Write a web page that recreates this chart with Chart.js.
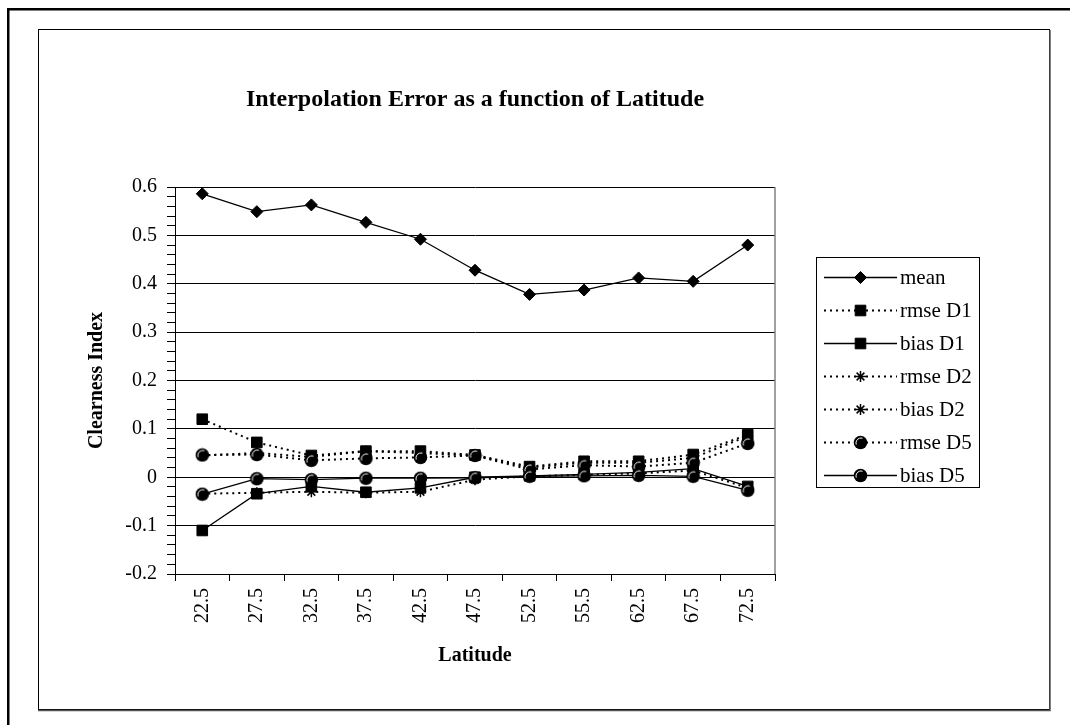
<!DOCTYPE html>
<html>
<head>
<meta charset="utf-8">
<title>Interpolation Error as a function of Latitude</title>
<script src="https://cdn.jsdelivr.net/npm/chart.js@4/dist/chart.umd.min.js"></script>
<style>
    html, body { margin: 0; padding: 0; background: #fff; }
    canvas { display: block; }
</style>
</head>
<body>
<canvas id="errorChart" width="1070" height="725"></canvas>
<script>
// Latitude bands (the 55.5 label is as printed on the original chart)
const latitudes = ['22.5', '27.5', '32.5', '37.5', '42.5', '47.5', '52.5', '55.5', '62.5', '67.5', '72.5'];

const meanValues = [0.586, 0.549, 0.563, 0.527, 0.492, 0.428, 0.378, 0.387, 0.412, 0.405, 0.480];
const rmseD1 = [0.120, 0.072, 0.045, 0.054, 0.054, 0.046, 0.022, 0.033, 0.033, 0.047, 0.088];
const biasD1 = [-0.110, -0.034, -0.019, -0.031, -0.022, 0.000, 0.003, 0.006, 0.010, 0.018, -0.019];
const rmseD2 = [0.045, 0.050, 0.042, 0.054, 0.050, 0.045, 0.020, 0.030, 0.030, 0.040, 0.085];
const biasD2 = [-0.034, -0.032, -0.030, -0.032, -0.030, -0.005, 0.002, 0.005, 0.008, 0.014, -0.022];
const rmseD5 = [0.046, 0.047, 0.035, 0.039, 0.041, 0.045, 0.016, 0.025, 0.022, 0.030, 0.070];
const biasD5 = [-0.035, -0.003, -0.005, -0.002, -0.002, -0.001, 0.002, 0.003, 0.004, 0.002, -0.027];

const seriesNames = ['mean', 'rmse D1', 'bias D1', 'rmse D2', 'bias D2', 'rmse D5', 'bias D5'];
const seriesValues = [meanValues, rmseD1, biasD1, rmseD2, biasD2, rmseD5, biasD5];

// Y axis: labelled every 0.1, minor ticks every 0.02
const yMajorTicks = [-0.2, -0.1, 0, 0.1, 0.2, 0.3, 0.4, 0.5, 0.6];
const yMinorStep = 0.02;

const chartTitle = 'Interpolation Error as a function of Latitude';
const SERIF = "'Liberation Serif', 'Times New Roman', serif";

// Shaded ball marker, like the old spreadsheet circle marker
function makeBall() {
    const c = document.createElement('canvas');
    c.width = 15;
    c.height = 15;
    const g = c.getContext('2d');
    g.fillStyle = '#000';
    g.beginPath();
    g.arc(7.5, 7.5, 6.8, 0, Math.PI * 2);
    g.fill();
    g.strokeStyle = '#fff';
    g.lineWidth = 1;
    g.beginPath();
    g.arc(8, 8, 5, Math.PI * 0.9, Math.PI * 1.6);
    g.stroke();
    return c;
}
const ball = makeBall();

const seriesStyles = [
    { marker: 'rectRot', radius: 6, dotted: false },
    { marker: 'rect', radius: 7.5, dotted: true },
    { marker: 'rect', radius: 7.5, dotted: false },
    { marker: 'star', radius: 5.5, dotted: true },
    { marker: 'star', radius: 5.5, dotted: true },
    { marker: ball, radius: 7, dotted: true },
    { marker: ball, radius: 7, dotted: false }
];

function isMajor(v) {
    return yMajorTicks.some(t => Math.abs(t - v) < 1e-6);
}

const datasets = seriesNames.map((name, i) => {
    const st = seriesStyles[i];
    return {
        label: name,
        data: seriesValues[i],
        borderColor: '#000',
        backgroundColor: '#000',
        borderWidth: st.dotted ? 2 : 1.3,
        borderDash: st.dotted ? [2, 4] : [],
        pointStyle: st.marker,
        pointRadius: st.radius,
        pointBackgroundColor: '#000',
        pointBorderColor: '#000',
        pointBorderWidth: st.marker === 'star' ? 1.5 : 1,
        tension: 0,
        fill: false,
        // later series are painted on top, like the original
        order: seriesNames.length - i
    };
});

// Page frames, title, plot border, minor ticks and the line+marker legend
const framePlugin = {
    id: 'frames',
    beforeDraw(chart) {
        const ctx = chart.ctx;
        ctx.save();
        ctx.fillStyle = '#fff';
        ctx.fillRect(0, 0, chart.width, chart.height);
        ctx.strokeStyle = '#000';
        ctx.lineWidth = 2.5;
        ctx.strokeRect(8.25, 9.25, 1090, 740);
        ctx.lineWidth = 1;
        ctx.strokeRect(38.5, 29.5, 1011, 680);
        ctx.strokeStyle = '#555';
        ctx.lineWidth = 1.5;
        ctx.beginPath();
        ctx.moveTo(1050, 30);
        ctx.lineTo(1050, 710.5);
        ctx.lineTo(38, 710.5);
        ctx.stroke();

        // title centred over the plot area
        const area = chart.chartArea;
        ctx.fillStyle = '#000';
        ctx.font = 'bold 24px ' + SERIF;
        ctx.textAlign = 'center';
        ctx.textBaseline = 'middle';
        ctx.fillText(chartTitle, (area.left + area.right) / 2, 100);
        ctx.restore();
    },
    beforeDatasetsDraw(chart) {
        const { ctx, chartArea } = chart;
        ctx.save();
        ctx.strokeStyle = '#808080';
        ctx.lineWidth = 1.5;
        ctx.beginPath();
        ctx.moveTo(chartArea.right, chartArea.top);
        ctx.lineTo(chartArea.right, chartArea.bottom);
        ctx.stroke();
        ctx.restore();
    },
    afterDraw(chart) {
        const ctx = chart.ctx;
        const box = { x: 816.5, y: 257.5, w: 163, h: 230 };
        ctx.save();
        ctx.strokeStyle = '#000';
        ctx.lineWidth = 1;
        ctx.strokeRect(box.x, box.y, box.w, box.h);
        ctx.font = '21px ' + SERIF;
        ctx.textBaseline = 'middle';
        ctx.textAlign = 'left';
        chart.data.datasets.forEach((ds, i) => {
            const y = box.y + 20 + i * 33;
            ctx.strokeStyle = '#000';
            ctx.lineWidth = ds.borderWidth;
            ctx.setLineDash(ds.borderDash);
            ctx.beginPath();
            ctx.moveTo(824, y);
            ctx.lineTo(897, y);
            ctx.stroke();
            ctx.setLineDash([]);
            ctx.fillStyle = '#000';
            ctx.lineWidth = ds.pointBorderWidth;
            Chart.helpers.drawPoint(ctx, {
                pointStyle: ds.pointStyle,
                radius: ds.pointRadius,
                rotation: 0,
                borderWidth: ds.pointBorderWidth
            }, 860.5, y);
            ctx.fillStyle = '#000';
            ctx.fillText(ds.label, 900, y + 1);
        });
        ctx.restore();
    }
};

const ctx = document.getElementById('errorChart').getContext('2d');
new Chart(ctx, {
    type: 'line',
    data: {
        labels: latitudes,
        datasets: datasets
    },
    plugins: [framePlugin],
    options: {
        responsive: false,
        animation: false,
        devicePixelRatio: 1,
        layout: {
            padding: { left: 83, right: 295, top: 187, bottom: 57 }
        },
        plugins: {
            legend: { display: false },
            tooltip: { enabled: false },
            title: { display: false }
        },
        scales: {
            x: {
                type: 'category',
                offset: true,
                afterFit(scale) { scale.height = 94; },
                grid: {
                    offset: true,
                    drawOnChartArea: false,
                    color: '#000',
                    tickColor: '#000',
                    tickLength: 7
                },
                border: { display: true, color: '#000', width: 1 },
                ticks: {
                    color: '#000',
                    font: { family: SERIF, size: 20 },
                    minRotation: 90,
                    maxRotation: 90,
                    autoSkip: false,
                    padding: 7
                },
                title: {
                    display: true,
                    text: 'Latitude',
                    color: '#000',
                    font: { family: SERIF, size: 20, weight: 'bold' },
                    padding: 0
                }
            },
            y: {
                min: -0.2,
                max: 0.6,
                afterFit(scale) { scale.width = 92; },
                grid: {
                    color: c => isMajor(c.tick.value) ? '#000' : 'rgba(0,0,0,0)',
                    tickColor: '#000',
                    tickLength: 8
                },
                border: { display: true, color: '#000', width: 1 },
                ticks: {
                    stepSize: yMinorStep,
                    autoSkip: false,
                    color: '#000',
                    font: { family: SERIF, size: 20 },
                    padding: 10,
                    callback: v => isMajor(v) ? String(Math.round(v * 10) / 10) : ''
                },
                title: {
                    display: true,
                    text: 'Clearness Index',
                    color: '#000',
                    font: { family: SERIF, size: 20, weight: 'bold' },
                    padding: { top: 2, bottom: 0 }
                }
            }
        }
    }
});
</script>
</body>
</html>
